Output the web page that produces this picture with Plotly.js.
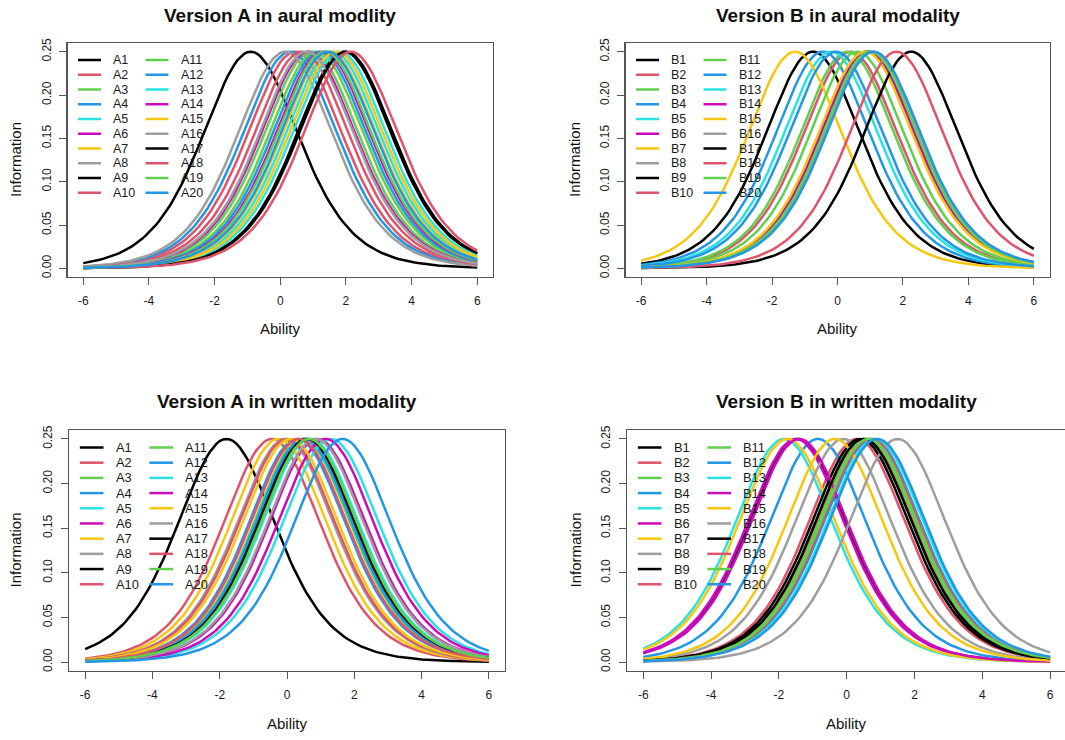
<!DOCTYPE html>
<html>
<head>
<meta charset="utf-8">
<script src="https://cdn.plot.ly/plotly-3.0.1.min.js"></script>
<style>html,body{margin:0;padding:0;background:#fff;}#chart{width:1065px;height:740px;}</style>
</head>
<body>
<div id="chart"></div>
<script>
// ---------- DATA ----------
// Item difficulties (location of each item's information peak on the Ability scale)
const itemsA = ["A1","A2","A3","A4","A5","A6","A7","A8","A9","A10","A11","A12","A13","A14","A15","A16","A17","A18","A19","A20"];
const itemsB = ["B1","B2","B3","B4","B5","B6","B7","B8","B9","B10","B11","B12","B13","B14","B15","B16","B17","B18","B19","B20"];
const diffAaural   = [-0.90, 0.45, 0.95, 0.30, 1.60, 0.85, 1.50, 0.15, 1.95, 0.65, 1.10, 1.20, 1.80, 1.30, 1.70, 0.80, 2.00, 2.15, 1.35, 1.45];
const diffBaural   = [-0.75, 0.40, 0.30, -0.45, -0.20, 0.95, -1.30, 0.90, 0.90, 1.05, 0.60, -0.05, 1.00, 0.90, 0.85, 1.05, 2.25, 1.80, 1.00, 1.10];
const diffAwritten = [-1.80, -0.45, 0.45, 0.30, 0.70, 0.90, -0.25, -0.05, 0.55, 0.00, 0.60, 0.50, 1.30, 1.15, 0.10, 0.85, 0.60, 0.35, 0.65, 1.65];
const diffBwritten = [-1.45, 0.30, 0.50, -0.85, -1.85, -1.50, -1.75, -0.10, 0.40, 0.55, 0.60, 0.75, 0.85, -1.40, -0.35, 1.50, 0.50, 0.70, 0.65, 0.90];
const panelTitles = ["Version A in aural modlity", "Version B in aural modality", "Version A in written modality", "Version B in written modality"];
const xTicks = [-6, -4, -2, 0, 2, 4, 6];
const yTicks = [0, 0.05, 0.10, 0.15, 0.20, 0.25];
const xLabel = "Ability";
const yLabel = "Information";
// R default palette (cycled over items)
const rPalette = ["#000000", "#DF536B", "#61D04F", "#2297E6", "#28E2E5", "#CD0BBC", "#F5C710", "#9E9E9E"];

// ---------- ITEM INFORMATION (Rasch model) ----------
const abilityGrid = [];
for (let k = -60; k <= 60; k++) abilityGrid.push(k / 10);
function itemInfo(theta, b) { const p = 1 / (1 + Math.exp(-(theta - b))); return p * (1 - p); }

// ---------- LAYOUT GEOMETRY (pixels) ----------
const W = 1065, H = 740;
const FONT = "Liberation Sans, Arial, sans-serif";
const panels = [
  {names: itemsA, diff: diffAaural,   box: {l: 67.5, r: 493,  t: 43,  b: 277}, xr: [-6.48, 6.48], s: 1.00, ylabX: 15,  xlabY: 328, titleY: 15},
  {names: itemsB, diff: diffBaural,   box: {l: 625.5, r: 1049.5, t: 43, b: 277}, xr: [-6.48, 6.48], s: 1.00, ylabX: 574, xlabY: 328, titleY: 15},
  {names: itemsA, diff: diffAwritten, box: {l: 69,  r: 505,  t: 430, b: 671}, xr: [-6.48, 6.48], s: 1.03, ylabX: 15,  xlabY: 723, titleY: 401},
  {names: itemsB, diff: diffBwritten, box: {l: 627, r: 1065, t: 430, b: 671}, xr: [-6.48, 6.44], s: 1.03, ylabX: 575, xlabY: 723, titleY: 401}
];
const px = v => v / W, py = v => 1 - v / H;

const traces = [];
const layout = {
  width: W, height: H, margin: {l: 0, r: 0, t: 0, b: 0},
  paper_bgcolor: "#fff", plot_bgcolor: "#fff",
  showlegend: false, font: {family: FONT, color: "#1a1a1a"},
  annotations: [], shapes: []
};

panels.forEach((p, k) => {
  const sfx = k === 0 ? "" : String(k + 1);
  const xa = "xaxis" + sfx, ya = "yaxis" + sfx;
  p.names.forEach((nm, i) => {
    traces.push({
      type: "scatter", mode: "lines", name: nm,
      x: abilityGrid, y: abilityGrid.map(t => itemInfo(t, p.diff[i])),
      xaxis: "x" + sfx, yaxis: "y" + sfx,
      line: {color: rPalette[i % rPalette.length], width: 2.5},
      showlegend: false
    });
  });
  const bx = p.box;
  layout[xa] = {
    domain: [px(bx.l), Math.min(1, px(bx.r))], range: p.xr, anchor: "y" + sfx,
    tickmode: "array", tickvals: xTicks, ticktext: xTicks.map(String),
    ticks: "outside", ticklen: 7, tickwidth: 1, tickcolor: "#555",
    showline: true, mirror: true, linecolor: "#555", linewidth: 1.2,
    showgrid: false, zeroline: false, fixedrange: true,
    tickfont: {family: FONT, size: 12, color: "#1a1a1a"}, ticklabelstandoff: 5
  };
  layout[ya] = {
    domain: [py(bx.b), py(bx.t)], range: [-0.01, 0.26], anchor: "x" + sfx,
    tickmode: "array", tickvals: yTicks, ticktext: yTicks.map(v => v.toFixed(2)),
    tickangle: -90,
    ticks: "outside", ticklen: 7, tickwidth: 1, tickcolor: "#555",
    showline: true, mirror: true, linecolor: "#555", linewidth: 1.2,
    showgrid: false, zeroline: false, fixedrange: true,
    tickfont: {family: FONT, size: 12, color: "#1a1a1a"}, ticklabelstandoff: 4
  };
  const cxPlot = bx.l + (0 - p.xr[0]) / (p.xr[1] - p.xr[0]) * (Math.min(bx.r, W) - bx.l);
  // panel title
  layout.annotations.push({xref: "paper", yref: "paper", x: px(cxPlot), y: py(p.titleY), text: "<b>" + panelTitles[k] + "</b>",
    showarrow: false, xanchor: "center", yanchor: "middle", font: {family: FONT, size: 19, color: "#111"}});
  // axis titles
  layout.annotations.push({xref: "paper", yref: "paper", x: px(cxPlot), y: py(p.xlabY), text: xLabel,
    showarrow: false, xanchor: "center", yanchor: "middle", font: {family: FONT, size: 15, color: "#111"}});
  layout.annotations.push({xref: "paper", yref: "paper", x: px(p.ylabX), y: py((bx.t + bx.b) / 2), text: yLabel, textangle: -90,
    showarrow: false, xanchor: "center", yanchor: "middle", font: {family: FONT, size: 15, color: "#111"}});
  // legend (two columns of ten)
  const s = p.s;
  p.names.forEach((nm, i) => {
    const col = Math.floor(i / 10), row = i % 10;
    const yy = bx.t + 17 * s + row * 14.75 * s;
    const x0 = bx.l + (10.5 + col * 67.5) * s;
    layout.shapes.push({type: "line", xref: "paper", yref: "paper", x0: px(x0), x1: px(x0 + 23 * s), y0: py(yy), y1: py(yy),
      line: {color: rPalette[i % rPalette.length], width: 2.5}});
    layout.annotations.push({xref: "paper", yref: "paper", x: px(x0 + 33 * s), y: py(yy), text: nm,
      showarrow: false, xanchor: "left", yanchor: "middle", font: {family: FONT, size: 12.5 * s, color: "#1a1a1a"}});
  });
});

Plotly.newPlot("chart", traces, layout, {staticPlot: true, displayModeBar: false});
</script>
</body>
</html>
